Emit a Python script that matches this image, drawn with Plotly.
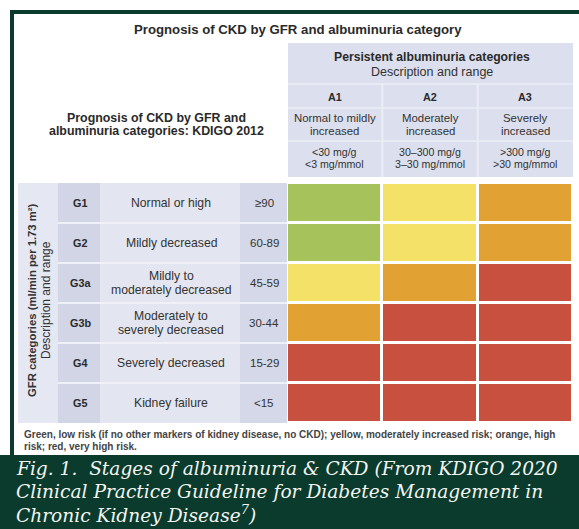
import plotly.graph_objects as go

W, H = 579, 529

# ---- data ----
alb_cats = ["A1", "A2", "A3"]
alb_desc = ["Normal to mildly<br>increased", "Moderately<br>increased", "Severely<br>increased"]
alb_range = ["<30 mg/g<br><3 mg/mmol", "30–300 mg/g<br>3–30 mg/mmol", ">300 mg/g<br>>30 mg/mmol"]
gfr_cats = ["G1", "G2", "G3a", "G3b", "G4", "G5"]
gfr_desc = ["Normal or high", "Mildly decreased", "Mildly to<br>moderately decreased",
            "Moderately to<br>severely decreased", "Severely decreased", "Kidney failure"]
gfr_range = ["≥90", "60-89", "45-59", "30-44", "15-29", "<15"]
# risk level: 0 low (green), 1 moderate (yellow), 2 high (orange), 3 very high (red)
risk = [[0, 1, 2],
        [0, 1, 2],
        [1, 2, 3],
        [2, 3, 3],
        [3, 3, 3],
        [3, 3, 3]]
risk_colors = ["#a6c35b", "#f3e168", "#e1a133", "#c8503f"]

DARK = "#0a3b2d"
LAV = "#dcdfed"
TXT = "#333333"
FONT = "Liberation Sans"

def px(x):
    return x / W

def py(y):
    return 1 - y / H

cs = []
n = len(risk_colors)
for i, c in enumerate(risk_colors):
    cs.append([i / n, c])
    cs.append([(i + 1) / n, c])

fig = go.Figure()
fig.add_trace(go.Heatmap(
    z=risk, x=alb_cats, y=gfr_cats,
    colorscale=cs, zmin=-0.5, zmax=3.5, showscale=False,
    xgap=3, ygap=3, hoverinfo="skip",
))

shapes = []
def rect(x0, y0, x1, y1, color, layer="below"):
    shapes.append(dict(type="rect", xref="paper", yref="paper",
                       x0=px(x0), x1=px(x1), y0=py(y1), y1=py(y0),
                       fillcolor=color, line_width=0, layer=layer))

# frame
rect(10, 10, 579, 455, DARK)
rect(14, 14, 579, 455, "white")
rect(0, 455, 579, 529, DARK)

# header block
rect(288, 43, 573, 177, LAV)
for yy in (84, 108, 141):
    shapes.append(dict(type="line", xref="paper", yref="paper", x0=px(288), x1=px(573),
                       y0=py(yy), y1=py(yy), line=dict(color="#eceef6", width=1.5)))
for xi in (0.5, 1.5):
    shapes.append(dict(type="line", xref="x", yref="paper", x0=xi, x1=xi,
                       y0=py(177), y1=py(84), line=dict(color="#eceef6", width=2)))

# left block columns
rect(18, 183, 58, 423, "#e5e8f2")
rect(58, 183, 100, 423, "#d1d5e6")
rect(100, 183, 240, 423, "#e3e6f0")
rect(240, 183, 287, 423, "#d4d8e8")
for i in range(len(gfr_cats) - 1):
    shapes.append(dict(type="line", xref="paper", yref="y", x0=px(58), x1=px(287),
                       y0=i + 0.5, y1=i + 0.5, line=dict(color="#eff1f7", width=2)))

annotations = []
def txt(x, y, s, size=10, bold=False, color=TXT, xref="paper", yref="paper",
        xanchor="center", angle=0, family=FONT, lh=None, italic=False):
    lines = s.split("<br>")
    nl = len(lines)
    if lh is None:
        lh = size * 1.2
    for k, line in enumerate(lines):
        t = line
        if bold:
            t = "<b>%s</b>" % t
        if italic:
            t = "<i>%s</i>" % t
        annotations.append(dict(
            x=x, y=y, xref=xref, yref=yref, text=t,
            yshift=-(k - (nl - 1) / 2) * lh,
            showarrow=False, xanchor=xanchor, yanchor="middle", align="left",
            textangle=angle, font=dict(family=family, size=size, color=color)))

txt(px(298), py(30), "Prognosis of CKD by GFR and albuminuria category", size=13.2, bold=True, color="#2a2a2a")
txt(px(156), py(124.5), "Prognosis of CKD by GFR and<br>albuminuria categories: KDIGO 2012",
    size=12.4, bold=True, lh=13.5, color="#2a2a2a")
txt(px(432), py(57), "Persistent albuminuria categories", size=12.2, bold=True, color="#2a2a2a")
txt(px(432), py(72), "Description and range", size=12.5)

for c, d, r in zip(alb_cats, alb_desc, alb_range):
    txt(c, py(97), c, size=10.8, bold=True, xref="x", color="#2a2a2a")
    txt(c, py(124), d, size=11.4, xref="x", lh=13)
    txt(c, py(158), r, size=10.6, xref="x", lh=12.5)

for g, d, r in zip(gfr_cats, gfr_desc, gfr_range):
    txt(px(80), g, g, size=10.8, bold=True, yref="y", color="#2a2a2a")
    txt(px(171), g, d, size=12.2, yref="y", lh=13.5)
    txt(px(264), g, r, size=11.5, yref="y")

txt(px(32), py(300), "GFR categories (ml/min per 1.73 m²)", size=11.3, bold=True, angle=-90)
txt(px(46), py(300), "Description and range", size=12, angle=-90)

txt(px(22), py(440),
    "Green, low risk (if no other markers of kidney disease, no CKD); yellow, moderately increased risk; orange, high<br>"
    "risk; red, very high risk.", size=10, bold=True, xanchor="left", color="#444444", lh=12)

cap_lines = ["Fig. 1.  Stages of albuminuria &amp; CKD (From KDIGO 2020",
             "Clinical Practice Guideline for Diabetes Management in",
             "Chronic Kidney Disease<sup>7</sup>)"]
txt(px(14), py(491), "<br>".join(cap_lines), size=18.6, xanchor="left", italic=True,
    color="#f4f4f0", family="DejaVu Serif", lh=22.5)

fig.update_layout(
    width=W, height=H, margin=dict(l=0, r=0, t=0, b=0),
    paper_bgcolor="white", plot_bgcolor="#f6e2da",
    shapes=shapes, annotations=annotations, showlegend=False,
    xaxis=dict(domain=[px(287), px(573)], visible=False, fixedrange=True),
    yaxis=dict(domain=[py(423), py(183)], visible=False, autorange="reversed", fixedrange=True),
)

fig.write_html("out.html", config={"displayModeBar": False},
               post_script="document.body.style.margin='0px';document.body.style.overflow='hidden';")
